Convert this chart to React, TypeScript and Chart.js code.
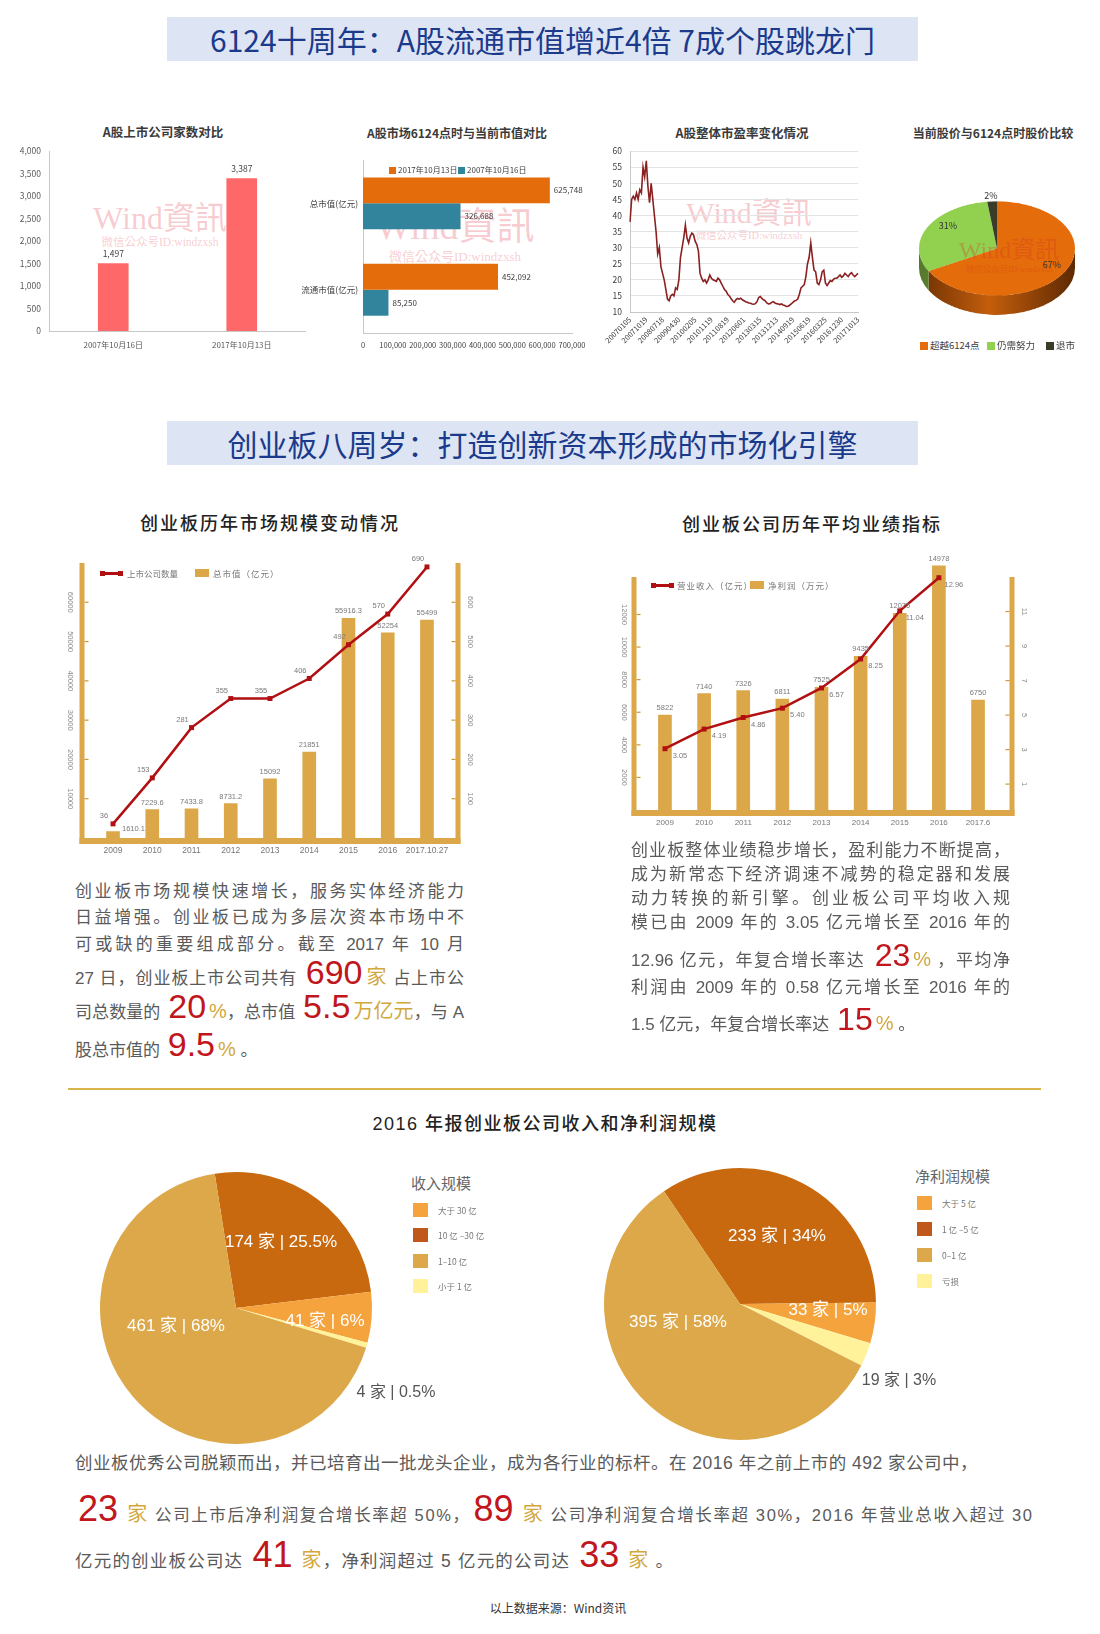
import React, { useEffect, useRef } from 'react';
import { Chart, registerables } from 'chart.js';

Chart.register(...registerables);

const CJK = '"Noto Sans CJK SC", "Noto Sans", sans-serif';
const MIX = '"Liberation Sans", "Noto Sans CJK SC", sans-serif';
const WMF = '"Liberation Serif", "Noto Sans CJK TC", serif';
const GOLD = '#dca748';
const RED = '#c0161c';
const ACCENT = '#d2a73c';
const TEXT = '#5a5a5a';

// ---------------- data ----------------
const listingDates = ['2007年10月16日', '2017年10月13日'];
const listedCompanies = [1497, 3387];

const capCategories = ['总市值(亿元)', '流通市值(亿元)'];
const capSeriesNames = ['2017年10月13日', '2007年10月16日'];
const capValues2017 = [625748, 452092];
const capValues2007 = [326688, 85250];

const peTickLabels = ['20070105', '20071019', '20080718', '20090430', '20100205', '20101119', '20110819', '20120601', '20130315', '20131213', '20140919', '20150619', '20160325', '20161230', '20171013'];
const peValues = [
  38, 45, 46, 45, 47, 45, 48, 47, 55, 52,
  57, 49, 44, 50, 45, 40, 35, 28, 30, 24,
  22, 20, 17, 14, 13.5, 15, 15.5, 15, 17.5, 17,
  20, 27, 30, 33, 37, 33, 31.5, 33.5, 34.5, 34,
  32, 31, 29, 22, 20.5, 19.5, 20, 19, 20, 21.5,
  20.5, 20, 19.8, 19.5, 20.5, 20, 19, 18, 17, 16.5,
  15.5, 15, 14.2, 13.5, 13, 13.8, 14.2, 14, 14.3, 13.8,
  13.5, 13.2, 13, 12.8, 12.7, 12.5, 12.4, 12.6, 13.2, 14.5,
  14.8, 14.2, 13.8, 13.5, 12.8, 12.5, 12.6, 13, 13.2, 12.8,
  12.6, 12.5, 12.3, 12.5, 12.2, 12, 11.7, 11.8, 12.1, 12.5,
  13, 13.4, 13.6, 14, 15.5, 17.5, 18, 18.5, 21, 25,
  27, 31.5, 27, 23, 22.5, 19, 18.5, 20, 22.5, 23,
  19, 18.2, 19, 19.8, 19.5, 20.2, 20.5, 20.5, 21, 21.5,
  20.8, 21.2, 22, 21.5, 21, 21.8, 22.2, 21.5, 21, 21.5,
  22,
];
const peTicks = [10, 15, 20, 25, 30, 35, 40, 45, 50, 55, 60];

const priceCompareLabels = ['超越6124点', '仍需努力', '退市'];
const priceCompareShares = [67, 31, 2];
const priceCompareColors = ['#e46c0a', '#92d050', '#3b3b2a'];
const priceCompareSide = [['#6e3104', '#c45e0c', '#5e2903'], ['#55782c', '#7fae45', '#4d6d27'], ['#1e1e14', '#2c2c1e', '#1e1e14']];

const gemYears = ['2009', '2010', '2011', '2012', '2013', '2014', '2015', '2016', '2017.10.27'];
const gemListedCount = [36, 153, 281, 355, 355, 406, 492, 570, 690];
const gemMarketCap = [1610.1, 7229.6, 7433.8, 8731.2, 15092, 21851, 55916.3, 52254, 55499];
const gemCapTicks = [10000, 20000, 30000, 40000, 50000, 60000];
const gemCountTicks = [100, 200, 300, 400, 500, 600];

const perfYears = ['2009', '2010', '2011', '2012', '2013', '2014', '2015', '2016', '2017.6'];
const avgRevenue = [3.05, 4.19, 4.86, 5.4, 6.57, 8.25, 11.04, 12.96, null];
const avgProfit = [5822, 7140, 7326, 6811, 7525, 9435, 12075, 14978, 6750];
const profitTicks = [2000, 4000, 6000, 8000, 10000, 12000];
const revenueTicks = [1, 3, 5, 7, 9, 11];

const revenueScaleLabels = ['大于 30 亿', '10 亿 –30 亿', '1–10 亿', '小于 1 亿'];
const revenueScaleCounts = [41, 174, 461, 4];
const revenueScalePct = ['6%', '25.5%', '68%', '0.5%'];
const profitScaleLabels = ['大于 5 亿', '1 亿 –5 亿', '0–1 亿', '亏损'];
const profitScaleCounts = [33, 233, 395, 19];
const profitScalePct = ['5%', '34%', '58%', '3%'];
const scaleColors = ['#f5a33d', '#c8690f', '#dca84a', '#fff29a'];
const legendColors = ['#f5a33d', '#c0581b', '#dca84a', '#fff29a'];
const pieDrawOrder = [1, 0, 3, 2];

// ---------------- helpers ----------------
const tf = (size: number, family = CJK) => ({ family, size });
const fmtComma = (v: any) => Number(v).toLocaleString('en-US');

function ChartBox({ left, top, width, height, make, style }: any) {
  const ref = useRef<HTMLCanvasElement>(null);
  useEffect(() => {
    const chart = new Chart(ref.current as HTMLCanvasElement, make());
    return () => chart.destroy();
  }, []);
  return (
    <div style={{ position: 'absolute', left, top, width, height, ...style }}>
      <canvas ref={ref} />
    </div>
  );
}

function T({ x, y, size, color = '#333', weight = 400, align = 'center', family = CJK, ls = 0, children, style }: any) {
  const tx = align === 'center' ? '-50%' : align === 'right' ? '-100%' : '0';
  return (
    <div style={{ position: 'absolute', left: x, top: y, transform: `translate(${tx}, -50%)`, fontSize: size, color, fontWeight: weight, fontFamily: family, whiteSpace: 'nowrap', lineHeight: 1, letterSpacing: ls, ...style }}>
      {children}
    </div>
  );
}

function P({ x, y, w, justify = true, size = 17, ls = 0, children }: any) {
  return (
    <div style={{ position: 'absolute', left: x, top: y, width: w, transform: 'translateY(-50%)', fontSize: size, lineHeight: 1, fontFamily: MIX, color: TEXT, letterSpacing: ls, textAlign: justify ? 'justify' : 'left', textAlignLast: justify ? 'justify' : 'left' } as any}>
      {children}
    </div>
  );
}

const Big = ({ children, size = 34 }: any) => <span style={{ fontSize: size, color: RED, letterSpacing: 0, margin: '0 3px' }}>{children}</span>;
const Acc = ({ children, size = 20 }: any) => <span style={{ fontSize: size, color: ACCENT }}>{children}</span>;

function Watermark({ x, y, size, sub, color = 'rgba(236,120,132,0.38)' }: any) {
  return (
    <>
      <T x={x} y={y} size={size} family={WMF} color={color}>Wind資訊</T>
      <T x={x} y={y + size * 0.78} size={sub} family={WMF} color={color}>微信公众号ID:windzxsh</T>
    </>
  );
}

// ---------------- plugins ----------------
const barTopLabels = {
  id: 'barTopLabels',
  afterDatasetsDraw(chart: any) {
    const ctx = chart.ctx;
    ctx.save();
    ctx.font = `8.5px ${CJK}`;
    ctx.fillStyle = '#404040';
    ctx.textAlign = 'center';
    ctx.textBaseline = 'middle';
    const meta = chart.getDatasetMeta(0);
    meta.data.forEach((el: any, i: number) => {
      ctx.fillText(fmtComma(chart.data.datasets[0].data[i]), el.x, el.y - 10);
    });
    ctx.restore();
  },
};

const barEndLabels = {
  id: 'barEndLabels',
  afterDatasetsDraw(chart: any) {
    const ctx = chart.ctx;
    ctx.save();
    ctx.font = `8px ${CJK}`;
    ctx.fillStyle = '#404040';
    ctx.textAlign = 'left';
    ctx.textBaseline = 'middle';
    chart.data.datasets.forEach((ds: any, d: number) => {
      chart.getDatasetMeta(d).data.forEach((el: any, i: number) => {
        ctx.fillText(fmtComma(ds.data[i]), el.x + 4, el.y);
      });
    });
    ctx.restore();
  },
};

function goldFrame(o: any) {
  return {
    id: 'goldFrame',
    beforeDatasetsDraw(chart: any) {
      const { ctx, chartArea: a, scales } = chart;
      const xl = a.left - o.offL;
      const xr = a.right + o.offR;
      ctx.save();
      ctx.fillStyle = GOLD;
      ctx.fillRect(xl - 2.5, a.top, 5, a.bottom - a.top + 6);
      ctx.fillRect(xr - 2.5, a.top, 5, a.bottom - a.top + 6);
      ctx.fillRect(xl - 2.5, a.bottom, xr - xl + 5, 6);
      ctx.fillStyle = '#c99a3c';
      o.leftTicks.forEach((v: number) => {
        const y = scales.y.getPixelForValue(v);
        ctx.fillRect(xl + 2.5, y - 0.6, 4, 1.2);
      });
      o.rightTicks.forEach((v: number) => {
        const y = scales.y1.getPixelForValue(v);
        ctx.fillRect(xr - 6.5, y - 0.6, 4, 1.2);
      });
      ctx.font = `7.5px ${MIX}`;
      ctx.fillStyle = '#8a8a8a';
      ctx.textAlign = 'center';
      ctx.textBaseline = 'middle';
      const draw = (txt: string, x: number, y: number) => {
        ctx.save();
        ctx.translate(x, y);
        ctx.rotate(Math.PI / 2);
        ctx.fillText(txt, 0, 0);
        ctx.restore();
      };
      o.leftTicks.forEach((v: number) => draw(String(v), xl - o.gapL, scales.y.getPixelForValue(v)));
      o.rightTicks.forEach((v: number) => draw(String(v), xr + o.gapR, scales.y1.getPixelForValue(v)));
      ctx.restore();
    },
  };
}

function comboLabels(o: any) {
  return {
    id: 'comboLabels',
    afterDatasetsDraw(chart: any) {
      const ctx = chart.ctx;
      ctx.save();
      ctx.font = `7.5px ${MIX}`;
      ctx.fillStyle = '#7a7a7a';
      ctx.textBaseline = 'middle';
      const bars = chart.data.datasets[o.bar].data;
      const maxBar = Math.max(...bars);
      chart.getDatasetMeta(o.bar).data.forEach((el: any, i: number) => {
        const v = bars[i];
        if (v == null) return;
        if (v < maxBar * 0.05) {
          ctx.textAlign = 'left';
          ctx.fillText(String(v), el.x + 9, el.y - 3);
        } else {
          ctx.textAlign = 'center';
          ctx.fillText(String(v), el.x, el.y - 7);
        }
      });
      const vals = chart.data.datasets[o.line].data;
      ctx.textAlign = 'center';
      chart.getDatasetMeta(o.line).data.forEach((el: any, i: number) => {
        const v = vals[i];
        if (v == null) return;
        ctx.fillText(o.fmt(v), el.x + o.dx, el.y + o.dy);
      });
      ctx.restore();
    },
  };
}

const pieDepth = {
  id: 'pieDepth',
  beforeDatasetsDraw(chart: any) {
    const ctx = chart.ctx;
    const depth = 32;
    chart.getDatasetMeta(0).data.forEach((el: any, i: number) => {
      const p = el.getProps(['x', 'y', 'startAngle', 'endAngle', 'outerRadius'], true);
      const { x, y, startAngle, endAngle } = p;
      const r = p.outerRadius;
      const ranges = [[0, Math.PI], [2 * Math.PI, 3 * Math.PI], [-2 * Math.PI, -Math.PI]];
      ranges.forEach(([lo, hi]) => {
        const a = Math.max(startAngle, lo);
        const b = Math.min(endAngle, hi);
        if (b <= a) return;
        const g = ctx.createLinearGradient(x - r, 0, x + r, 0);
        const c = priceCompareSide[i];
        g.addColorStop(0, c[0]);
        g.addColorStop(0.45, c[1]);
        g.addColorStop(1, c[2]);
        ctx.save();
        ctx.fillStyle = g;
        ctx.beginPath();
        ctx.arc(x, y, r, a, b);
        ctx.lineTo(x + r * Math.cos(b), y + depth + r * Math.sin(b));
        ctx.arc(x, y + depth, r, b, a, true);
        ctx.closePath();
        ctx.fill();
        ctx.restore();
      });
    });
  },
};

// ---------------- chart configs ----------------
const base = { animation: false, responsive: true, maintainAspectRatio: false, events: [] };

function makeListingChart(): any {
  return {
    type: 'bar',
    data: { labels: listingDates, datasets: [{ data: listedCompanies, backgroundColor: '#ff6868', barThickness: 30 }] },
    options: {
      ...base,
      layout: { padding: { top: 8, right: 0, left: 0, bottom: 0 } },
      plugins: { legend: { display: false }, tooltip: { enabled: false } },
      scales: {
        x: { grid: { display: false, drawTicks: false }, border: { color: '#c8c8c8' }, ticks: { font: tf(8), color: '#595959', padding: 9, maxRotation: 0, autoSkip: false }, afterFit: (s: any) => { s.height = 27; } },
        y: { min: 0, max: 4000, grid: { display: false, drawTicks: false }, border: { color: '#c8c8c8' }, ticks: { stepSize: 500, font: tf(8.5), color: '#595959', padding: 8, callback: fmtComma }, afterFit: (s: any) => { s.width = 44; } },
      },
    },
    plugins: [barTopLabels],
  };
}

function makeCapChart(): any {
  return {
    type: 'bar',
    data: {
      labels: capCategories,
      datasets: [
        { label: capSeriesNames[0], data: capValues2017, backgroundColor: '#e46c0a', categoryPercentage: 0.6, barPercentage: 1 },
        { label: capSeriesNames[1], data: capValues2007, backgroundColor: '#31849b', categoryPercentage: 0.6, barPercentage: 1 },
      ],
    },
    options: {
      ...base,
      indexAxis: 'y',
      layout: { padding: { top: 8, right: 28, left: 0, bottom: 0 } },
      plugins: { legend: { display: false }, tooltip: { enabled: false } },
      scales: {
        x: { min: 0, max: 700000, grid: { display: false, drawTicks: false }, border: { color: '#c8c8c8' }, ticks: { stepSize: 100000, font: tf(7.5), color: '#404040', padding: 8, maxRotation: 0, minRotation: 0, autoSkip: false, callback: fmtComma }, afterFit: (s: any) => { s.height = 27; } },
        y: { grid: { display: false, drawTicks: false }, border: { color: '#c8c8c8' }, ticks: { font: tf(8.5), color: '#404040', padding: 5 }, afterFit: (s: any) => { s.width = 73; } },
      },
    },
    plugins: [barEndLabels],
  };
}

function makePeChart(): any {
  const labels = peValues.map((_, i) => (i % 10 === 0 ? peTickLabels[i / 10] : ''));
  return {
    type: 'line',
    data: { labels, datasets: [{ data: peValues, borderColor: '#8b2020', borderWidth: 1.6, pointRadius: 0, tension: 0 }] },
    options: {
      ...base,
      layout: { padding: { top: 8, right: 12, left: 0, bottom: 0 } },
      plugins: { legend: { display: false }, tooltip: { enabled: false } },
      scales: {
        x: { grid: { display: false, drawTicks: false }, border: { color: '#c8c8c8' }, ticks: { autoSkip: false, minRotation: 45, maxRotation: 45, font: tf(7.5), color: '#404040', padding: 3 }, afterFit: (s: any) => { s.height = 44; } },
        y: {
          min: 10, max: 60,
          grid: { color: '#e3e3e3', drawTicks: false }, border: { color: '#c8c8c8' },
          ticks: { font: tf(8.5), color: '#404040', padding: 8 },
          afterBuildTicks: (s: any) => { s.ticks = peTicks.map((v) => ({ value: v })); },
          afterFit: (s: any) => { s.width = 40; },
        },
      },
    },
  };
}

function makePriceCompareChart(): any {
  return {
    type: 'pie',
    data: { labels: priceCompareLabels, datasets: [{ data: priceCompareShares, backgroundColor: priceCompareColors, borderWidth: 0 }] },
    options: {
      ...base,
      rotation: 0,
      layout: { padding: { top: 4, left: 4, right: 4, bottom: 36 } },
      plugins: { legend: { display: false }, tooltip: { enabled: false } },
    },
    plugins: [pieDepth],
  };
}

function makeGemScaleChart(): any {
  return {
    type: 'bar',
    data: {
      labels: gemYears,
      datasets: [
        { type: 'line', label: '上市公司数量', data: gemListedCount, yAxisID: 'y1', borderColor: '#b10f12', backgroundColor: '#b10f12', borderWidth: 2.5, pointStyle: 'rect', pointRadius: 3.5, pointBackgroundColor: '#b10f12', pointBorderWidth: 0, order: 0, clip: false },
        { type: 'bar', label: '总市值（亿元）', data: gemMarketCap, yAxisID: 'y', backgroundColor: GOLD, barThickness: 13, order: 1 },
      ],
    },
    options: {
      ...base,
      layout: { padding: { left: 93.4, right: 73.4, top: 23, bottom: 20 } },
      plugins: { legend: { display: false }, tooltip: { enabled: false } },
      scales: {
        x: { grid: { display: false, drawTicks: false }, border: { display: false }, ticks: { font: tf(8.5, MIX), color: '#777', padding: 8, maxRotation: 0, minRotation: 0, autoSkip: false }, afterFit: (s: any) => { s.height = 22; } },
        y: { display: false, min: 0, max: 70000 },
        y1: { display: false, min: 0, max: 700, position: 'right' },
      },
    },
    plugins: [
      goldFrame({ offL: 11.4, offR: 11.4, gapL: 12, gapR: 12, leftTicks: gemCapTicks, rightTicks: gemCountTicks }),
      comboLabels({ bar: 1, line: 0, dx: -9, dy: -8, fmt: (v: number) => String(v) }),
    ],
  };
}

function makePerfChart(): any {
  return {
    type: 'bar',
    data: {
      labels: perfYears,
      datasets: [
        { type: 'line', label: '营业收入（亿元）', data: avgRevenue, yAxisID: 'y1', borderColor: '#b10f12', backgroundColor: '#b10f12', borderWidth: 2.5, pointStyle: 'rect', pointRadius: 3.5, pointBackgroundColor: '#b10f12', pointBorderWidth: 0, order: 0, clip: false },
        { type: 'bar', label: '净利润（万元）', data: avgProfit, yAxisID: 'y', backgroundColor: GOLD, barThickness: 13, order: 1, clip: false },
      ],
    },
    options: {
      ...base,
      layout: { padding: { left: 85.4, right: 62.4, top: 37, bottom: 18 } },
      plugins: { legend: { display: false }, tooltip: { enabled: false } },
      scales: {
        x: { grid: { display: false, drawTicks: false }, border: { display: false }, ticks: { font: tf(8, MIX), color: '#777', padding: 8, maxRotation: 0, autoSkip: false }, afterFit: (s: any) => { s.height = 22; } },
        y: { display: false, min: 0, max: 14300 },
        y1: { display: false, min: -0.5, max: 13, position: 'right' },
      },
    },
    plugins: [
      goldFrame({ offL: 11.4, offR: 14.4, gapL: 10, gapR: 12, leftTicks: profitTicks, rightTicks: revenueTicks }),
      comboLabels({ bar: 1, line: 0, dx: 15, dy: 7, fmt: (v: number) => v.toFixed(2) }),
    ],
  };
}

function makeScalePie(counts: number[], rotation: number) {
  return (): any => ({
    type: 'pie',
    data: {
      labels: pieDrawOrder.map((i) => String(i)),
      datasets: [{ data: pieDrawOrder.map((i) => counts[i]), backgroundColor: pieDrawOrder.map((i) => scaleColors[i]), borderWidth: 0 }],
    },
    options: {
      ...base,
      rotation,
      layout: { padding: 4 },
      plugins: { legend: { display: false }, tooltip: { enabled: false } },
    },
  });
}

// ---------------- page pieces ----------------
function Banner({ top, children }: any) {
  return (
    <div style={{ position: 'absolute', left: 167, top, width: 751, height: 44, background: '#dde5f4', display: 'flex', alignItems: 'center', justifyContent: 'center', color: '#1b3a8c', fontSize: 30, fontFamily: CJK, whiteSpace: 'nowrap', lineHeight: 1 }}>
      {children}
    </div>
  );
}

function ScaleLegend({ x, y, title, labels, ys }: any) {
  return (
    <>
      <T x={x - 2} y={y} size={15} align="left" color="#666">{title}</T>
      {labels.map((l: string, i: number) => (
        <React.Fragment key={i}>
          <div style={{ position: 'absolute', left: x, top: ys[i] - 7, width: 15, height: 14, background: legendColors[i] }} />
          <T x={x + 25} y={ys[i]} size={8.5} align="left" color="#777">{l}</T>
        </React.Fragment>
      ))}
    </>
  );
}

export default function App() {
  const pieLabel = (counts: number[], pct: string[], i: number) => `${counts[i]} 家 | ${pct[i]}`;
  return (
    <div style={{ position: 'absolute', left: 0, top: 0, width: 1100, height: 1634, background: '#fff', overflow: 'hidden', fontFamily: CJK }}>
      <Banner top={17}>6124十周年：A股流通市值增近4倍 7成个股跳龙门</Banner>

      {/* top row titles */}
      <T x={163} y={132} size={12.5} weight={700} color="#3a3a3a">A股上市公司家数对比</T>
      <T x={457} y={133} size={12} weight={700} color="#3a3a3a">A股市场6124点时与当前市值对比</T>
      <T x={742} y={133} size={12.5} weight={700} color="#3a3a3a">A股整体市盈率变化情况</T>
      <T x={993} y={133} size={12} weight={700} color="#3a3a3a">当前股价与6124点时股价比较</T>

      {/* watermarks */}
      <Watermark x={160} y={218} size={32} sub={11.5} />
      <Watermark x={455} y={226} size={38} sub={13} />
      <Watermark x={749} y={213} size={30} sub={10.5} />

      <ChartBox left={5} top={138} width={301} height={220} make={makeListingChart} />
      <ChartBox left={290} top={150} width={310} height={210} make={makeCapChart} />
      <ChartBox left={590} top={138} width={280} height={218} make={makePeChart} />
      <ChartBox left={915} top={198.6} width={164} height={196} make={makePriceCompareChart} style={{ transform: 'scaleY(0.603)', transformOrigin: 'top left' }} />

      {/* cap chart legend */}
      <div style={{ position: 'absolute', left: 389, top: 166.5, width: 7, height: 7, background: '#e46c0a' }} />
      <T x={398} y={170} size={8} align="left" color="#404040">{capSeriesNames[0]}</T>
      <div style={{ position: 'absolute', left: 458, top: 166.5, width: 7, height: 7, background: '#31849b' }} />
      <T x={467} y={170} size={8} align="left" color="#404040">{capSeriesNames[1]}</T>

      {/* 3D pie labels and legend */}
      <Watermark x={1009} y={250} size={24} sub={8.5} color="rgba(215,50,40,0.3)" />
      <T x={1052} y={264} size={9} color="#333">{priceCompareShares[0]}%</T>
      <T x={948} y={225} size={9} color="#333">{priceCompareShares[1]}%</T>
      <T x={991} y={195} size={9} color="#333">{priceCompareShares[2]}%</T>
      {[920, 987, 1046].map((lx, i) => (
        <React.Fragment key={i}>
          <div style={{ position: 'absolute', left: lx, top: 342, width: 8, height: 8, background: priceCompareColors[i] }} />
          <T x={lx + 10} y={346} size={9.5} align="left" color="#404040">{priceCompareLabels[i]}</T>
        </React.Fragment>
      ))}

      <Banner top={421}>创业板八周岁：打造创新资本形成的市场化引擎</Banner>

      {/* middle titles */}
      <T x={270} y={522} size={18} weight={500} ls={2} color="#222">创业板历年市场规模变动情况</T>
      <T x={812} y={523} size={18} weight={500} ls={2} color="#222">创业板公司历年平均业绩指标</T>

      <ChartBox left={0} top={540} width={520} height={340} make={makeGemScaleChart} />
      <ChartBox left={560} top={540} width={500} height={310} make={makePerfChart} />

      {/* middle legends */}
      <div style={{ position: 'absolute', left: 100, top: 572, width: 23, height: 2.5, background: '#b10f12' }} />
      <div style={{ position: 'absolute', left: 100, top: 570.5, width: 5, height: 5, background: '#b10f12' }} />
      <div style={{ position: 'absolute', left: 118, top: 570.5, width: 5, height: 5, background: '#b10f12' }} />
      <T x={127} y={573} size={8.5} align="left" color="#777">{'上市公司数量'}</T>
      <div style={{ position: 'absolute', left: 195, top: 569, width: 14, height: 8, background: GOLD }} />
      <T x={213} y={573} size={8.5} align="left" color="#777" ls={1}>{'总市值（亿元）'}</T>

      <div style={{ position: 'absolute', left: 651, top: 584, width: 23, height: 2.5, background: '#b10f12' }} />
      <div style={{ position: 'absolute', left: 651, top: 582.5, width: 5, height: 5, background: '#b10f12' }} />
      <div style={{ position: 'absolute', left: 669, top: 582.5, width: 5, height: 5, background: '#b10f12' }} />
      <T x={677} y={585} size={8.5} align="left" color="#777" ls={1}>{'营业收入（亿元）'}</T>
      <div style={{ position: 'absolute', left: 750, top: 581, width: 14, height: 8, background: GOLD }} />
      <T x={768} y={585} size={8.5} align="left" color="#777" ls={1}>{'净利润（万元）'}</T>

      {/* left paragraph */}
      <P x={75} y={891} w={389}>创业板市场规模快速增长，服务实体经济能力</P>
      <P x={75} y={917} w={389}>日益增强。创业板已成为多层次资本市场中不</P>
      <P x={75} y={944} w={389}>可或缺的重要组成部分。截至 2017 年 10 月</P>
      <P x={75} y={972} w={389}>27 日，创业板上市公司共有 <Big>690</Big><Acc>家</Acc> 占上市公</P>
      <P x={75} y={1006} w={389}>司总数量的 <Big>20</Big><Acc>%</Acc>，总市值 <Big>5.5</Big><Acc>万亿元</Acc>，与 A</P>
      <P x={75} y={1044} w={389} justify={false}>股总市值的 <Big>9.5</Big><Acc>%</Acc> 。</P>

      {/* right paragraph */}
      <P x={631} y={850} w={379}>创业板整体业绩稳步增长，盈利能力不断提高，</P>
      <P x={631} y={874} w={379}>成为新常态下经济调速不减势的稳定器和发展</P>
      <P x={631} y={898} w={379}>动力转换的新引擎。创业板公司平均收入规</P>
      <P x={631} y={922} w={379}>模已由 2009 年的 3.05 亿元增长至 2016 年的</P>
      <P x={631} y={955} w={379}>12.96 亿元，年复合增长率达 <Big size={32}>23</Big><Acc>%</Acc> ，平均净</P>
      <P x={631} y={987} w={379}>利润由 2009 年的 0.58 亿元增长至 2016 年的</P>
      <P x={631} y={1019} w={379} justify={false}>1.5 亿元，年复合增长率达 <Big size={32}>15</Big><Acc>%</Acc> 。</P>

      {/* separator */}
      <div style={{ position: 'absolute', left: 68, top: 1088, width: 973, height: 1.5, background: '#d8b44a' }} />

      <T x={545} y={1124} size={18} weight={500} ls={1.5} family={MIX} color="#222">2016 年报创业板公司收入和净利润规模</T>

      {/* bottom pies */}
      <ChartBox left={96} top={1168} width={280} height={280} make={makeScalePie(revenueScaleCounts, -9)} />
      <ChartBox left={600} top={1164} width={280} height={280} make={makeScalePie(profitScaleCounts, -34)} />

      <T x={281} y={1241} size={17} family={MIX} color="#fff">{pieLabel(revenueScaleCounts, revenueScalePct, 1)}</T>
      <T x={325} y={1320} size={17} family={MIX} color="#fff">{pieLabel(revenueScaleCounts, revenueScalePct, 0)}</T>
      <T x={176} y={1325} size={17} family={MIX} color="#fff">{pieLabel(revenueScaleCounts, revenueScalePct, 2)}</T>
      <T x={396} y={1392} size={16} family={MIX} color="#555">{pieLabel(revenueScaleCounts, revenueScalePct, 3)}</T>

      <T x={777} y={1235} size={17} family={MIX} color="#fff">{pieLabel(profitScaleCounts, profitScalePct, 1)}</T>
      <T x={828} y={1309} size={17} family={MIX} color="#fff">{pieLabel(profitScaleCounts, profitScalePct, 0)}</T>
      <T x={678} y={1321} size={17} family={MIX} color="#fff">{pieLabel(profitScaleCounts, profitScalePct, 2)}</T>
      <T x={899} y={1380} size={16} family={MIX} color="#555">{pieLabel(profitScaleCounts, profitScalePct, 3)}</T>

      <ScaleLegend x={413} y={1182} title="收入规模" labels={revenueScaleLabels} ys={[1210, 1235, 1261, 1286]} />
      <ScaleLegend x={917} y={1175} title="净利润规模" labels={profitScaleLabels} ys={[1203, 1229, 1255, 1281]} />

      {/* bottom paragraph */}
      <P x={75} y={1464} w={960} justify={false} size={17.5} ls={0.5}>创业板优秀公司脱颖而出，并已培育出一批龙头企业，成为各行业的标杆。在 2016 年之前上市的 492 家公司中，</P>
      <P x={75} y={1509} w={1000} justify={false} size={16.5} ls={1.6}><Big size={36}>23</Big> <Acc>家</Acc> 公司上市后净利润复合增长率超 50%，<Big size={36}>89</Big> <Acc>家</Acc> 公司净利润复合增长率超 30%，2016 年营业总收入超过 30</P>
      <P x={75} y={1555} w={980} justify={false} size={17.5} ls={1.2}>亿元的创业板公司达 <Big size={36}>41</Big> <Acc>家</Acc>，净利润超过 5 亿元的公司达 <Big size={36}>33</Big> <Acc>家</Acc> 。</P>

      <T x={558} y={1608} size={12} color="#333">以上数据来源：Wind资讯</T>
    </div>
  );
}
